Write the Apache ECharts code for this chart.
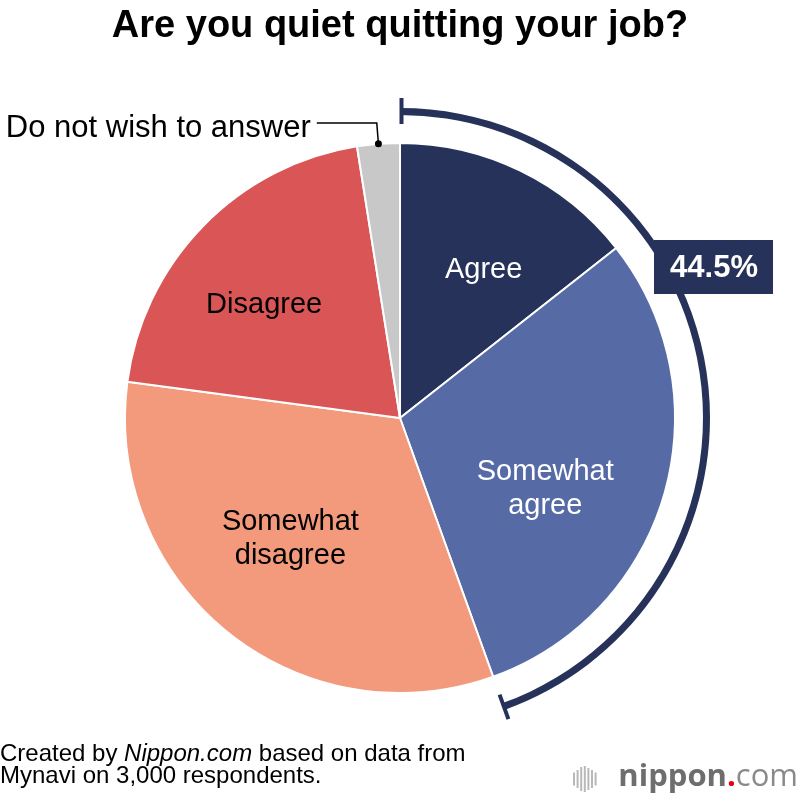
<!DOCTYPE html>
<html>
<head>
<meta charset="utf-8">
<script src="https://cdn.jsdelivr.net/npm/echarts@6/dist/echarts.min.js"></script>
<style>
  html, body { margin: 0; padding: 0; background: #fff; }
  #chart { width: 800px; height: 800px; }
</style>
</head>
<body>
<div id="chart"></div>
<script>
// ---- data ----
const categories = ['Agree', 'Somewhat agree', 'Somewhat disagree', 'Disagree', 'Do not wish to answer'];
const sliceLabels = ['Agree', 'Somewhat\nagree', 'Somewhat\ndisagree', 'Disagree', 'Do not wish to answer'];
const values = [14.4, 30.1, 32.6, 20.4, 2.5];
const titleText = 'Are you quiet quitting your job?';
const sourceLine1 = ['Created by ', 'Nippon.com', ' based on data from'];
const sourceLine2 = 'Mynavi on 3,000 respondents.';

// ---- styles ----
const palette = ['#263259', '#566ba6', '#f29a7b', '#d95556', '#c8c8c8'];
const labelColors = ['#fff', '#fff', '#000', '#000', '#000'];
const labelOffsets = [[8, 8], [-21, 23], [-1, -14], [-12, 8], [0, 0]];
const navy = '#263259';
const FONT = '"Liberation Sans", Arial, Helvetica, sans-serif';
const cx = 400, cy = 418, R = 275;

const total = values.reduce((a, b) => a + b, 0);
const agreeTotal = values[0] + values[1];

function polar(r, frac) {
  const a = frac * 2 * Math.PI;
  return [cx + r * Math.sin(a), cy - r * Math.cos(a)];
}

// main pie data
const mainData = categories.map((c, i) => {
  const item = { name: c, value: values[i], itemStyle: { color: palette[i] } };
  if (i === 4) {
    item.label = {
      show: true, position: 'outside', formatter: '{t|' + sliceLabels[i] + '}',
      distanceToLabelLine: 6,
      rich: { t: { color: '#000', fontSize: 31, fontFamily: FONT, padding: [12, 0, 0, 0] } }
    };
    item.labelLine = { show: true, length: 21, length2: 60, lineStyle: { color: '#000', width: 1.5 } };
  }
  return item;
});

// overlay (label) pie data
const labelData = categories.map((c, i) => ({
  name: c, value: values[i],
  itemStyle: { color: 'rgba(0,0,0,0)' },
  label: i < 4 ? {
    show: true, position: 'inside', formatter: sliceLabels[i],
    color: labelColors[i], fontSize: 29, lineHeight: 34, fontFamily: FONT,
    offset: labelOffsets[i]
  } : { show: false }
}));

// no-answer leader dot
const lastMid = (total - values[4] / 2) / total;
const dotPt = polar(R, lastMid);

// bracket ticks
const t0a = polar(294, 0), t0b = polar(320, 0);
const endFrac = agreeTotal / total;
const t1a = polar(294, endFrac), t1b = polar(320, endFrac);

// logo bars
const barHeights = [13, 18, 24, 26, 22, 18, 13];
const logoBars = barHeights.map((h, i) => ({
  type: 'rect', z: 50,
  shape: { x: 573 + i * 3.6, y: 779 - h / 2, width: 2, height: h },
  style: { fill: '#b8b8b8' }
}));

const option = {
  animation: false,
  backgroundColor: '#fff',
  title: {
    text: titleText, left: 'center', top: 3,
    textStyle: { fontSize: 38, fontWeight: 'bold', color: '#000', fontFamily: FONT }
  },
  series: [
    {
      type: 'pie', center: [cx, cy], radius: [0, R], startAngle: 90, clockwise: true,
      silent: true, avoidLabelOverlap: false,
      itemStyle: { borderColor: '#fff', borderWidth: 2 },
      label: { show: false }, labelLine: { show: false },
      data: mainData, z: 2
    },
    {
      type: 'pie', center: [cx, cy], radius: [0, 340], startAngle: 90, clockwise: true,
      silent: true, avoidLabelOverlap: false,
      itemStyle: { borderWidth: 0 },
      labelLine: { show: false },
      data: labelData, z: 3
    },
    {
      type: 'pie', center: [cx, cy], radius: [303, 310], startAngle: 90, clockwise: true,
      silent: true, label: { show: false }, labelLine: { show: false },
      data: [
        { name: 'agree total', value: agreeTotal, itemStyle: { color: navy } },
        { name: 'rest', value: total - agreeTotal, itemStyle: { color: 'rgba(0,0,0,0)' } }
      ], z: 4
    }
  ],
  graphic: [
    { type: 'line', z: 60, shape: { x1: t0a[0] + 1.5, y1: t0a[1], x2: t0b[0] + 1.5, y2: t0b[1] },
      style: { stroke: navy, lineWidth: 4 } },
    { type: 'line', z: 60, shape: { x1: t1a[0], y1: t1a[1], x2: t1b[0], y2: t1b[1] },
      style: { stroke: navy, lineWidth: 4 } },
    { type: 'circle', z: 60, shape: { cx: dotPt[0], cy: dotPt[1], r: 3.5 }, style: { fill: '#000' } },
    { type: 'rect', z: 100, shape: { x: 654, y: 240, width: 119, height: 54 }, style: { fill: navy } },
    { type: 'text', z: 101, x: 714, y: 268,
      style: { text: agreeTotal.toFixed(1) + '%', fill: '#fff', font: 'bold 31px ' + FONT,
               textAlign: 'center', textVerticalAlign: 'middle' } },
    { type: 'text', z: 60, x: 0, y: 743,
      style: {
        text: '{n|' + sourceLine1[0] + '}{i|' + sourceLine1[1] + '}{n|' + sourceLine1[2] + '}\n{n|' + sourceLine2 + '}',
        textAlign: 'left', textVerticalAlign: 'top',
        rich: {
          n: { fontSize: 24, fontFamily: FONT, fill: '#000', color: '#000', lineHeight: 22 },
          i: { fontSize: 24, fontFamily: FONT, fontStyle: 'italic', fill: '#000', color: '#000', lineHeight: 22 }
        }
      } },
    ...logoBars,
    { type: 'text', z: 60, x: 798, y: 777,
      style: {
        text: '{a|nippon}{b|.}{c|com}',
        textAlign: 'right', textVerticalAlign: 'middle',
        rich: {
          a: { fontSize: 31, fontFamily: '"Open Sans", sans-serif', fontWeight: 'bold', fill: '#6e6e6e', color: '#6e6e6e' },
          b: { fontSize: 31, fontFamily: '"Open Sans", sans-serif', fontWeight: 'bold', fill: '#e60012', color: '#e60012' },
          c: { fontSize: 31, fontFamily: '"Open Sans", sans-serif', fontWeight: 'normal', fill: '#8a8a8a', color: '#8a8a8a' }
        }
      } }
  ]
};

const chart = echarts.init(document.getElementById('chart'), null, { renderer: 'canvas' });
chart.setOption(option);
</script>
</body>
</html>
